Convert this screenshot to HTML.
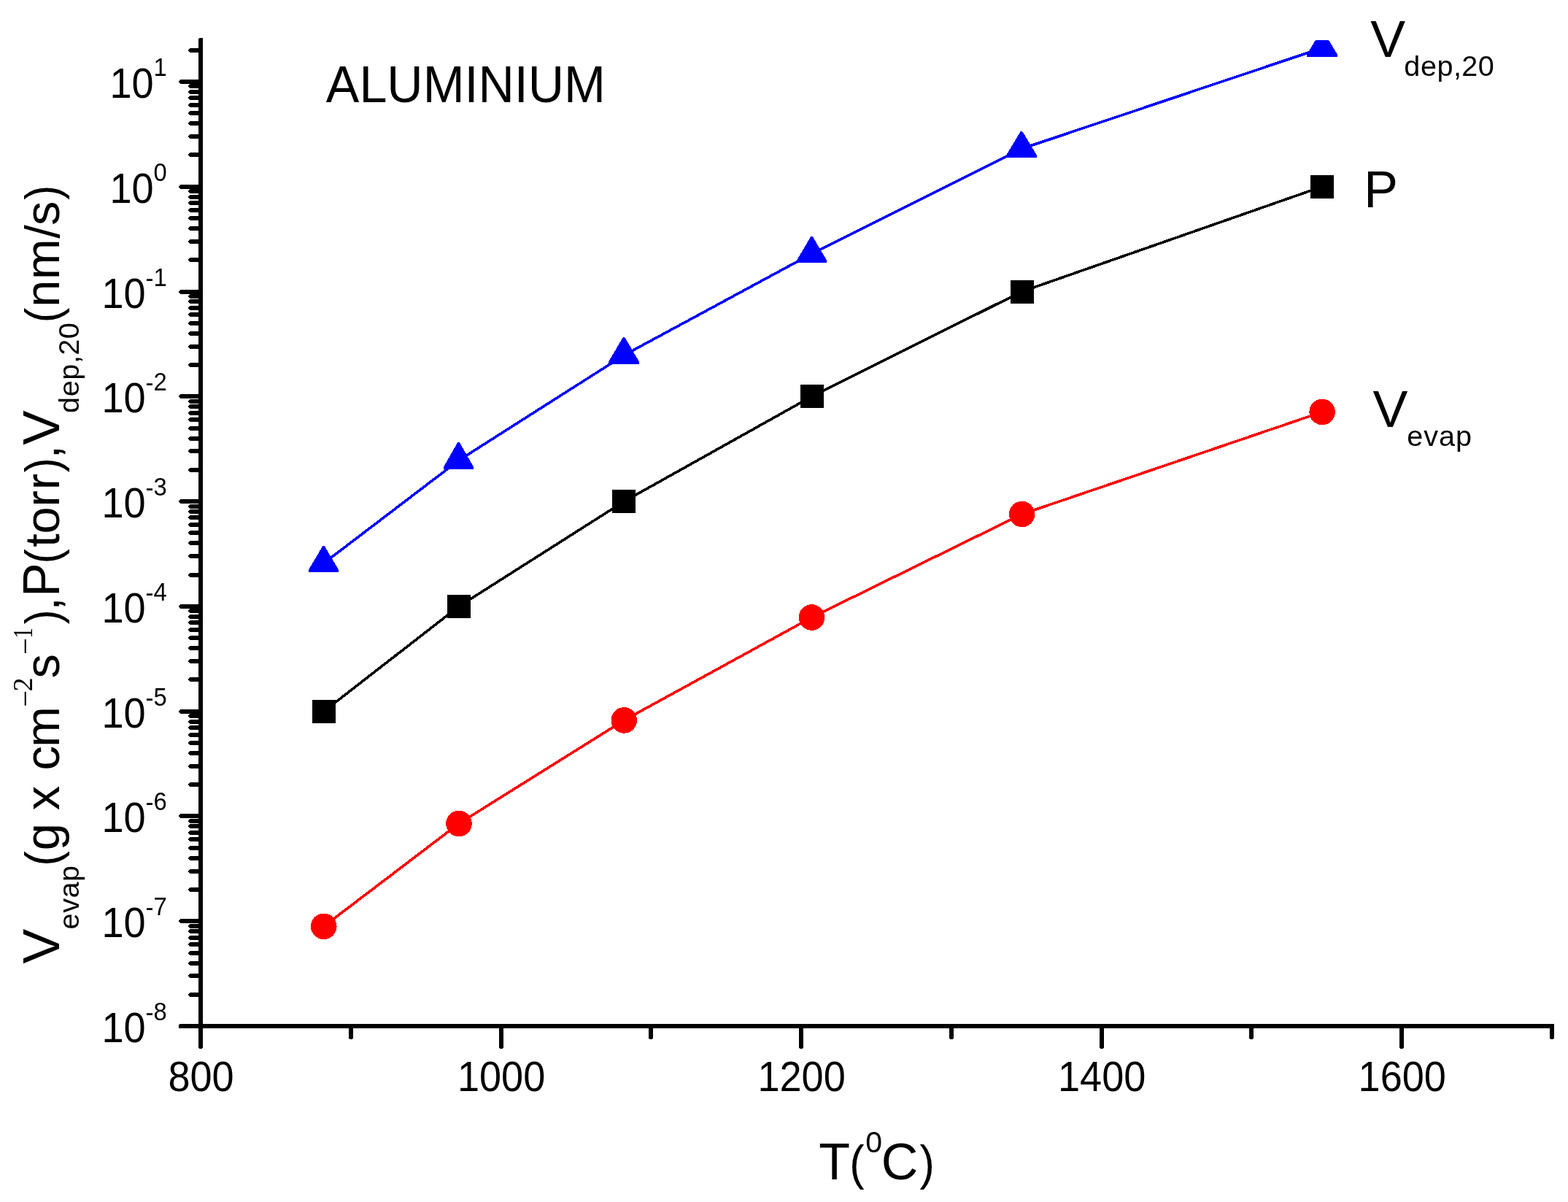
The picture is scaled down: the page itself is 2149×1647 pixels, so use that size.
<!DOCTYPE html>
<html lang="en">
<head>
<meta charset="utf-8">
<title>Aluminium: vapour pressure, evaporation rate and deposition rate versus temperature</title>
<style>
html,body{margin:0;padding:0;background:#fff;}
body{width:2149px;height:1647px;overflow:hidden;}
svg{display:block;}
text{white-space:pre;}
</style>
</head>
<body>
<svg width="2149" height="1647" viewBox="0 0 2149 1647">
<rect width="2149" height="1647" fill="#fff"/>
<g id="axes" fill="#000" shape-rendering="crispEdges">
<polygon id="yaxis" points="272,53 273,52 278,52 278,1409 272,1409"/>
<polygon id="xaxis" points="245,1404 246,1403 2130,1403 2130,1409 245,1409"/>
<g id="yticks">
<polygon points="275,1259 247,1259 245,1261 245,1263 247,1265 275,1265"/>
<polygon points="275,1115 247,1115 245,1117 245,1119 247,1121 275,1121"/>
<polygon points="275,972 247,972 245,974 245,976 247,978 275,978"/>
<polygon points="275,828 247,828 245,830 245,832 247,834 275,834"/>
<polygon points="275,684 247,684 245,686 245,688 247,690 275,690"/>
<polygon points="275,540 247,540 245,542 245,544 247,546 275,546"/>
<polygon points="275,397 247,397 245,399 245,401 247,403 275,403"/>
<polygon points="275,253 247,253 245,255 245,257 247,259 275,259"/>
<polygon points="275,109 247,109 245,111 245,113 247,115 275,115"/>
<polygon points="275,1360 260,1360 258,1362 258,1364 260,1366 275,1366"/>
<polygon points="275,1334 260,1334 258,1336 258,1338 260,1340 275,1340"/>
<polygon points="275,1317 260,1317 258,1319 258,1321 260,1323 275,1323"/>
<polygon points="275,1303 260,1303 258,1305 258,1307 260,1309 275,1309"/>
<polygon points="275,1291 260,1291 258,1293 258,1295 260,1297 275,1297"/>
<polygon points="275,1282 260,1282 258,1284 258,1286 260,1288 275,1288"/>
<polygon points="275,1273 260,1273 258,1275 258,1277 260,1279 275,1279"/>
<polygon points="275,1266 260,1266 258,1268 258,1270 260,1272 275,1272"/>
<polygon points="275,1216 260,1216 258,1218 258,1220 260,1222 275,1222"/>
<polygon points="275,1191 260,1191 258,1193 258,1195 260,1197 275,1197"/>
<polygon points="275,1173 260,1173 258,1175 258,1177 260,1179 275,1179"/>
<polygon points="275,1159 260,1159 258,1161 258,1163 260,1165 275,1165"/>
<polygon points="275,1147 260,1147 258,1149 258,1151 260,1153 275,1153"/>
<polygon points="275,1138 260,1138 258,1140 258,1142 260,1144 275,1144"/>
<polygon points="275,1129 260,1129 258,1131 258,1133 260,1135 275,1135"/>
<polygon points="275,1122 260,1122 258,1124 258,1126 260,1128 275,1128"/>
<polygon points="275,1072 260,1072 258,1074 258,1076 260,1078 275,1078"/>
<polygon points="275,1047 260,1047 258,1049 258,1051 260,1053 275,1053"/>
<polygon points="275,1029 260,1029 258,1031 258,1033 260,1035 275,1035"/>
<polygon points="275,1015 260,1015 258,1017 258,1019 260,1021 275,1021"/>
<polygon points="275,1004 260,1004 258,1006 258,1008 260,1010 275,1010"/>
<polygon points="275,994 260,994 258,996 258,998 260,1000 275,1000"/>
<polygon points="275,986 260,986 258,988 258,990 260,992 275,992"/>
<polygon points="275,978 260,978 258,980 258,982 260,984 275,984"/>
<polygon points="275,928 260,928 258,930 258,932 260,934 275,934"/>
<polygon points="275,903 260,903 258,905 258,907 260,909 275,909"/>
<polygon points="275,885 260,885 258,887 258,889 260,891 275,891"/>
<polygon points="275,871 260,871 258,873 258,875 260,877 275,877"/>
<polygon points="275,860 260,860 258,862 258,864 260,866 275,866"/>
<polygon points="275,850 260,850 258,852 258,854 260,856 275,856"/>
<polygon points="275,842 260,842 258,844 258,846 260,848 275,848"/>
<polygon points="275,834 260,834 258,836 258,838 260,840 275,840"/>
<polygon points="275,785 260,785 258,787 258,789 260,791 275,791"/>
<polygon points="275,759 260,759 258,761 258,763 260,765 275,765"/>
<polygon points="275,741 260,741 258,743 258,745 260,747 275,747"/>
<polygon points="275,727 260,727 258,729 258,731 260,733 275,733"/>
<polygon points="275,716 260,716 258,718 258,720 260,722 275,722"/>
<polygon points="275,706 260,706 258,708 258,710 260,712 275,712"/>
<polygon points="275,698 260,698 258,700 258,702 260,704 275,704"/>
<polygon points="275,691 260,691 258,693 258,695 260,697 275,697"/>
<polygon points="275,641 260,641 258,643 258,645 260,647 275,647"/>
<polygon points="275,615 260,615 258,617 258,619 260,621 275,621"/>
<polygon points="275,598 260,598 258,600 258,602 260,604 275,604"/>
<polygon points="275,584 260,584 258,586 258,588 260,590 275,590"/>
<polygon points="275,572 260,572 258,574 258,576 260,578 275,578"/>
<polygon points="275,563 260,563 258,565 258,567 260,569 275,569"/>
<polygon points="275,554 260,554 258,556 258,558 260,560 275,560"/>
<polygon points="275,547 260,547 258,549 258,551 260,553 275,553"/>
<polygon points="275,497 260,497 258,499 258,501 260,503 275,503"/>
<polygon points="275,472 260,472 258,474 258,476 260,478 275,478"/>
<polygon points="275,454 260,454 258,456 258,458 260,460 275,460"/>
<polygon points="275,440 260,440 258,442 258,444 260,446 275,446"/>
<polygon points="275,428 260,428 258,430 258,432 260,434 275,434"/>
<polygon points="275,419 260,419 258,421 258,423 260,425 275,425"/>
<polygon points="275,410 260,410 258,412 258,414 260,416 275,416"/>
<polygon points="275,403 260,403 258,405 258,407 260,409 275,409"/>
<polygon points="275,353 260,353 258,355 258,357 260,359 275,359"/>
<polygon points="275,328 260,328 258,330 258,332 260,334 275,334"/>
<polygon points="275,310 260,310 258,312 258,314 260,316 275,316"/>
<polygon points="275,296 260,296 258,298 258,300 260,302 275,302"/>
<polygon points="275,285 260,285 258,287 258,289 260,291 275,291"/>
<polygon points="275,275 260,275 258,277 258,279 260,281 275,281"/>
<polygon points="275,267 260,267 258,269 258,271 260,273 275,273"/>
<polygon points="275,259 260,259 258,261 258,263 260,265 275,265"/>
<polygon points="275,209 260,209 258,211 258,213 260,215 275,215"/>
<polygon points="275,184 260,184 258,186 258,188 260,190 275,190"/>
<polygon points="275,166 260,166 258,168 258,170 260,172 275,172"/>
<polygon points="275,152 260,152 258,154 258,156 260,158 275,158"/>
<polygon points="275,141 260,141 258,143 258,145 260,147 275,147"/>
<polygon points="275,131 260,131 258,133 258,135 260,137 275,137"/>
<polygon points="275,123 260,123 258,125 258,127 260,129 275,129"/>
<polygon points="275,115 260,115 258,117 258,119 260,121 275,121"/>
<polygon points="275,66 260,66 258,68 258,70 260,72 275,72"/>
</g>
<g id="xticks">
<polygon points="272,1406 272,1436 273.5,1437 276.5,1437 278,1436 278,1406"/>
<polygon points="478,1406 478,1423 479.5,1424 482.5,1424 484,1423 484,1406"/>
<polygon points="684,1406 684,1436 685.5,1437 688.5,1437 690,1436 690,1406"/>
<polygon points="889,1406 889,1423 890.5,1424 893.5,1424 895,1423 895,1406"/>
<polygon points="1095,1406 1095,1436 1096.5,1437 1099.5,1437 1101,1436 1101,1406"/>
<polygon points="1301,1406 1301,1423 1302.5,1424 1305.5,1424 1307,1423 1307,1406"/>
<polygon points="1507,1406 1507,1436 1508.5,1437 1511.5,1437 1513,1436 1513,1406"/>
<polygon points="1712,1406 1712,1423 1713.5,1424 1716.5,1424 1718,1423 1718,1406"/>
<polygon points="1918,1406 1918,1436 1919.5,1437 1922.5,1437 1924,1436 1924,1406"/>
<polygon points="2124,1406 2124,1423 2125.5,1424 2128.5,1424 2130,1423 2130,1406"/>
</g></g>
<defs><clipPath id="plot"><rect x="278" y="55" width="1871" height="1348"/></clipPath></defs>
<g id="series" clip-path="url(#plot)" stroke-linejoin="round" shape-rendering="crispEdges">
<polyline id="line-P" fill="none" stroke="#000" stroke-width="3.6" points="443.74,974.7 628.94,830.9 855.29,687.1 1112.52,543.31 1400.6,399.51 1812.16,255.71"/>
<rect x="427.74" y="958.7" width="32" height="32" fill="#000"/>
<rect x="612.94" y="814.9" width="32" height="32" fill="#000"/>
<rect x="839.29" y="671.1" width="32" height="32" fill="#000"/>
<rect x="1096.52" y="527.31" width="32" height="32" fill="#000"/>
<rect x="1384.6" y="383.51" width="32" height="32" fill="#000"/>
<rect x="1796.16" y="239.71" width="32" height="32" fill="#000"/>
<polyline id="line-Vevap" fill="none" stroke="#f00" stroke-width="3.6" points="443.74,1269.3 628.94,1128.5 855.29,986.9 1112.52,846 1400.6,704.5 1812.16,564.5"/>
<circle cx="443.74" cy="1269.3" r="17.8" fill="#f00"/>
<circle cx="628.94" cy="1128.5" r="17.8" fill="#f00"/>
<circle cx="855.29" cy="986.9" r="17.8" fill="#f00"/>
<circle cx="1112.52" cy="846" r="17.8" fill="#f00"/>
<circle cx="1400.6" cy="704.5" r="17.8" fill="#f00"/>
<circle cx="1812.16" cy="564.5" r="17.8" fill="#f00"/>
<polyline id="line-Vdep" fill="none" stroke="#00f" stroke-width="3.6" points="443.74,771.7 628.94,630.7 855.29,486.7 1112.52,347.7 1400.6,203.7 1812.16,65.7"/>
<polygon fill="#00f" points="423,784 423,780.7 442.3,748 444.7,748 464,780.7 464,784"/>
<polygon fill="#00f" points="608,643 608,639.7 627.3,606 629.7,606 649,639.7 649,643"/>
<polygon fill="#00f" points="834,499 834,495.7 853.8,462 856.2,462 876,495.7 876,499"/>
<polygon fill="#00f" points="1092,360 1092,356.7 1111.3,324 1113.7,324 1133,356.7 1133,360"/>
<polygon fill="#00f" points="1379,216 1379,212.7 1398.8,180 1401.2,180 1421,212.7 1421,216"/>
<polygon fill="#00f" points="1791,78 1791,74.7 1810.8,42 1813.2,42 1833,74.7 1833,78"/>
</g>
<g id="ticklabels" fill="#000" font-family="'Liberation Sans', Arial, Helvetica, sans-serif" font-size="56.5">
<text transform="translate(150.4 133.6) scale(0.9575 1)">10<tspan font-size="34.2" dy="-30">1</tspan></text>
<text transform="translate(150.4 277.6) scale(0.9575 1)">10<tspan font-size="34.2" dy="-30">0</tspan></text>
<text transform="translate(139.4 421.6) scale(0.9575 1)">10<tspan font-size="34.2" dy="-29 -1">-1</tspan></text>
<text transform="translate(139.4 564.6) scale(0.9575 1)">10<tspan font-size="34.2" dy="-29 -1">-2</tspan></text>
<text transform="translate(139.4 708.6) scale(0.9575 1)">10<tspan font-size="34.2" dy="-29 -1">-3</tspan></text>
<text transform="translate(139.4 852.6) scale(0.9575 1)">10<tspan font-size="34.2" dy="-29 -1">-4</tspan></text>
<text transform="translate(139.4 996.6) scale(0.9575 1)">10<tspan font-size="34.2" dy="-29 -1">-5</tspan></text>
<text transform="translate(139.4 1139.6) scale(0.9575 1)">10<tspan font-size="34.2" dy="-29 -1">-6</tspan></text>
<text transform="translate(139.4 1283.6) scale(0.9575 1)">10<tspan font-size="34.2" dy="-29 -1">-7</tspan></text>
<text transform="translate(139.4 1427.6) scale(0.9575 1)">10<tspan font-size="34.2" dy="-29 -1">-8</tspan></text>
<text transform="translate(275.5 1494.5) scale(0.9575 1)" text-anchor="middle">800</text>
<text transform="translate(687.06 1494.5) scale(0.9575 1)" text-anchor="middle">1000</text>
<text transform="translate(1098.61 1494.5) scale(0.9575 1)" text-anchor="middle">1200</text>
<text transform="translate(1510.17 1494.5) scale(0.9575 1)" text-anchor="middle">1400</text>
<text transform="translate(1921.72 1494.5) scale(0.9575 1)" text-anchor="middle">1600</text>
</g>
<g id="labels" fill="#000">
<text id="title" transform="translate(446.85 139.9) scale(0.9755 1)" font-family="'Liberation Sans', Arial, Helvetica, sans-serif" font-size="70">ALUMINIUM</text>
<text id="xtitle" transform="translate(1124 1615.9)" font-family="'Liberation Sans', Arial, Helvetica, sans-serif" font-size="70"><tspan x="-1.86" y="0">T</tspan><tspan x="40.21" y="0" textLength="20.35" lengthAdjust="spacingAndGlyphs" font-size="66.5">(</tspan><tspan x="62.15" y="-37.3" font-size="41">0</tspan><tspan x="83.68" y="0">C</tspan><tspan x="136.44" y="0" textLength="20.35" lengthAdjust="spacingAndGlyphs" font-size="66.5">)</tspan></text>
<text id="legend-Vdep" transform="translate(1878 77.8)" font-family="'Liberation Sans', Arial, Helvetica, sans-serif" font-size="70"><tspan x="0.38" y="0" textLength="47.93" lengthAdjust="spacingAndGlyphs">V</tspan><tspan x="46.34 68.89 91.45 114 125.27 147.82" y="25.9" font-size="39.6">dep,20</tspan></text>
<text id="legend-P" transform="translate(1875 283.9)" font-family="'Liberation Sans', Arial, Helvetica, sans-serif" font-size="70"><tspan x="-5.87" y="0">P</tspan></text>
<text id="legend-Vevap" transform="translate(1881 585)" font-family="'Liberation Sans', Arial, Helvetica, sans-serif" font-size="70"><tspan x="0.48" y="0" textLength="47.93" lengthAdjust="spacingAndGlyphs">V</tspan><tspan x="47.22 70.23 90.92 113.94" y="25.9" font-size="39.6">evap</tspan></text>
<text id="ytitle" transform="translate(81.1 1321) rotate(-90)" font-family="'Liberation Sans', Arial, Helvetica, sans-serif" font-size="70"><tspan x="0.49" y="0" textLength="47.73" lengthAdjust="spacingAndGlyphs">V</tspan><tspan x="47.52 70.15 90.5 113.14" y="27.1" font-size="39.6">evap</tspan><tspan x="134.34" y="0" textLength="20.72" lengthAdjust="spacingAndGlyphs" font-size="66.5">(</tspan><tspan x="155.67" y="0" font-size="66.8">g</tspan> <tspan x="210.88" y="0" font-size="66.8">x</tspan> <tspan x="265.41 297.36" y="0" font-size="66.8">cm</tspan><tspan x="352.18" y="-33.5" font-size="40.6" font-family="'Liberation Serif', 'Times New Roman', Times, serif">−</tspan><tspan x="373.47" y="-37.2" font-size="38.4" font-family="'Liberation Serif', 'Times New Roman', Times, serif">2</tspan><tspan x="391.58" y="0" font-size="66.8">s</tspan><tspan x="423.98" y="-33.5" font-size="40.6" font-family="'Liberation Serif', 'Times New Roman', Times, serif">−</tspan><tspan x="446.6" y="-37.2" textLength="14.2" lengthAdjust="spacingAndGlyphs" font-size="38.4" font-family="'Liberation Serif', 'Times New Roman', Times, serif">1</tspan><tspan x="465.65" y="0" textLength="19.97" lengthAdjust="spacingAndGlyphs" font-size="66.5">)</tspan><tspan x="484.37" y="0" font-size="66.8">,</tspan><tspan x="503.08" y="0">P</tspan><tspan x="548.61" y="0" textLength="20.35" lengthAdjust="spacingAndGlyphs" font-size="66.5">(</tspan><tspan x="571.16 589.52 626.56 649.76" y="0" font-size="66.8">torr</tspan><tspan x="673.65" y="0" textLength="20.1" lengthAdjust="spacingAndGlyphs" font-size="66.5">)</tspan><tspan x="692.47" y="0" font-size="66.8">,</tspan><tspan x="711.29" y="0" textLength="47.42" lengthAdjust="spacingAndGlyphs">V</tspan><tspan x="755.14 777.74 800.34 822.93 834.22 856.82" y="27.1" font-size="39.6">dep,20</tspan><tspan x="878.62" y="0" textLength="20.85" lengthAdjust="spacingAndGlyphs" font-size="66.5">(</tspan><tspan x="900.18 938.01 994.22 1011.98" y="0" font-size="66.8">nm/s</tspan><tspan x="1047.35" y="0" textLength="20.1" lengthAdjust="spacingAndGlyphs" font-size="66.5">)</tspan></text>
</g>
</svg>
</body>
</html>
